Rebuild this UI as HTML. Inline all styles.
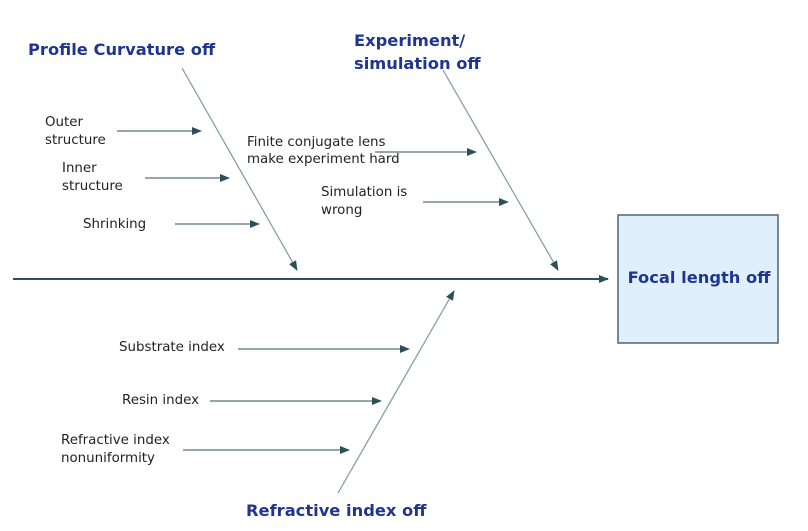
<!DOCTYPE html>
<html><head><meta charset="utf-8"><style>
html,body{margin:0;padding:0;background:#fff;width:808px;height:531px;overflow:hidden}
svg text{font-family:"DejaVu Sans","Liberation Sans",sans-serif}
.s{font-size:13.4px;fill:#222}
.h{font-size:16.3px;font-weight:bold;fill:#1f3590}
</style></head><body>
<svg width="808" height="531" xmlns="http://www.w3.org/2000/svg">
<defs><marker id="a" markerWidth="10" markerHeight="8" refX="9" refY="4" orient="auto" markerUnits="userSpaceOnUse"><path d="M0,0 L10,4 L0,8 Z" fill="#2d4f5a"/></marker></defs>
<rect x="618" y="215" width="160" height="128" fill="#dff0fc" stroke="#4a6670" stroke-width="1.5"/>
<text class="h" x="699" y="283" text-anchor="middle">Focal length off</text>
<line x1="13" y1="279" x2="608" y2="279" stroke="#2d4f5a" stroke-width="2" marker-end="url(#a)"/>
<g stroke="#7a9aa4" stroke-width="1.2">
<line x1="182" y1="68" x2="297" y2="270" marker-end="url(#a)"/>
<line x1="443" y1="70" x2="558" y2="270" marker-end="url(#a)"/>
<line x1="338" y1="493" x2="454" y2="291" marker-end="url(#a)"/>
</g>
<g stroke="#2d4f5a" stroke-width="1">
<line x1="117" y1="131" x2="201" y2="131" marker-end="url(#a)"/>
<line x1="145" y1="178" x2="229" y2="178" marker-end="url(#a)"/>
<line x1="175" y1="224" x2="259" y2="224" marker-end="url(#a)"/>
<line x1="375" y1="152" x2="476" y2="152" marker-end="url(#a)"/>
<line x1="423" y1="202" x2="508" y2="202" marker-end="url(#a)"/>
<line x1="238" y1="349" x2="409" y2="349" marker-end="url(#a)"/>
<line x1="210" y1="401" x2="381" y2="401" marker-end="url(#a)"/>
<line x1="183" y1="450" x2="349" y2="450" marker-end="url(#a)"/>
</g>
<text class="h" x="28" y="55">Profile Curvature off</text>
<text class="h" x="354" y="46">Experiment/</text>
<text class="h" x="354" y="69">simulation off</text>
<text class="h" x="246" y="516">Refractive index off</text>
<text class="s" x="45" y="126">Outer</text>
<text class="s" x="45" y="144">structure</text>
<text class="s" x="62" y="172">Inner</text>
<text class="s" x="62" y="190">structure</text>
<text class="s" x="83" y="228">Shrinking</text>
<text class="s" x="247" y="146">Finite conjugate lens</text>
<text class="s" x="247" y="163">make experiment hard</text>
<text class="s" x="321" y="196">Simulation is</text>
<text class="s" x="321" y="214">wrong</text>
<text class="s" x="119" y="351">Substrate index</text>
<text class="s" x="122" y="404">Resin index</text>
<text class="s" x="61" y="444">Refractive index</text>
<text class="s" x="61" y="462">nonuniformity</text>
</svg>
</body></html>
